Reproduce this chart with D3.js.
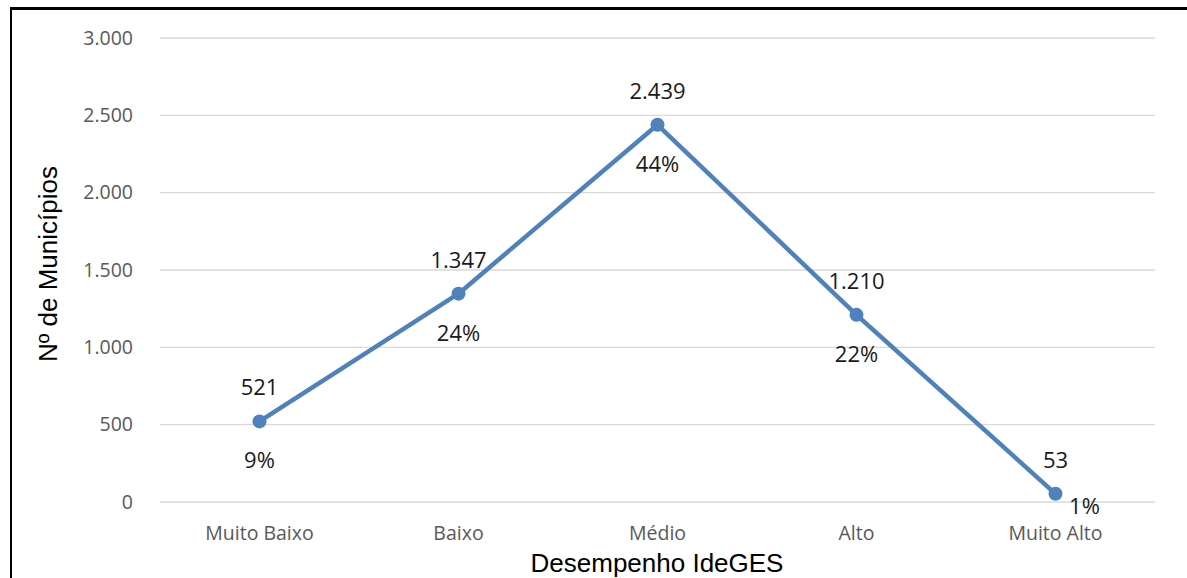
<!DOCTYPE html>
<html>
<head>
<meta charset="utf-8">
<script src="https://cdn.jsdelivr.net/npm/d3@7"></script>
<style>
  body { margin: 0; background: #fff; }
  text { font-family: "Open Sans", "Noto Sans", sans-serif; }
  .title { font-family: "Liberation Sans", Arial, sans-serif; }
</style>
</head>
<body>
<div id="chart"></div>
<script>
let w = 1187;
let h = 578;

// data
let categories = ["Muito Baixo", "Baixo", "Médio", "Alto", "Muito Alto"];
let values = [521, 1347, 2439, 1210, 53];
let percents = ["9%", "24%", "44%", "22%", "1%"];
let yTicks = [0, 500, 1000, 1500, 2000, 2500, 3000];

let margin = {left: 160, right: 32, top: 38, bottom: 76};

let svg = d3.select("#chart")
  .append("svg")
  .attr("width", w)
  .attr("height", h);

// frame lines (top + left)
svg.append("line")
  .attr("x1", 10).attr("x2", w).attr("y1", 8.5).attr("y2", 8.5)
  .attr("stroke", "#000").attr("stroke-width", 3);
svg.append("line")
  .attr("x1", 11).attr("x2", 11).attr("y1", 7).attr("y2", h)
  .attr("stroke", "#000").attr("stroke-width", 2);

let xScale = d3.scaleBand()
  .domain(categories)
  .range([margin.left, w - margin.right]);

let yScale = d3.scaleLinear()
  .domain([0, 3000])
  .range([h - margin.bottom, margin.top]);

let fmt = d3.formatLocale({decimal: ",", thousands: ".", grouping: [3], currency: ["", ""]}).format(",d");

// gridlines
svg.append("g")
  .selectAll("line")
  .data(yTicks)
  .enter()
  .append("line")
  .attr("x1", margin.left)
  .attr("x2", w - margin.right)
  .attr("y1", d => yScale(d))
  .attr("y2", d => yScale(d))
  .attr("stroke", "#d9d9d9")
  .attr("stroke-width", 1.3);

// y axis labels
let yAxis = d3.axisLeft(yScale).tickValues(yTicks).tickFormat(fmt).tickSize(0).tickPadding(27);
let yg = svg.append("g")
  .attr("transform", "translate(" + margin.left + ",0)")
  .call(yAxis);
yg.select(".domain").remove();
yg.selectAll("text")
  .attr("fill", "#595959")
  .style("font-size", "19.5px");

// x axis labels
let xAxis = d3.axisBottom(xScale).tickSize(0).tickPadding(24);
let xg = svg.append("g")
  .attr("transform", "translate(0," + (h - margin.bottom) + ")")
  .call(xAxis);
xg.select(".domain").remove();
xg.selectAll("text")
  .attr("fill", "#595959")
  .style("font-size", "19.5px");

// axis titles
svg.append("text")
  .attr("class", "title")
  .attr("x", 657)
  .attr("y", 572)
  .attr("text-anchor", "middle")
  .attr("fill", "#000")
  .style("font-size", "26px")
  .text("Desempenho IdeGES");

svg.append("text")
  .attr("class", "title")
  .attr("transform", "translate(57,264) rotate(-90)")
  .attr("text-anchor", "middle")
  .attr("fill", "#000")
  .style("font-size", "26px")
  .text("Nº de Municípios");

let points = categories.map(function(c, i){
  return {cat: c, value: values[i], pct: percents[i]};
});

let line = d3.line()
  .x(d => xScale(d.cat) + xScale.bandwidth() / 2)
  .y(d => yScale(d.value));

svg.append("path")
  .datum(points)
  .attr("d", line)
  .attr("fill", "none")
  .attr("stroke", "#4f81bd")
  .attr("stroke-width", 4.5)
  .attr("stroke-linejoin", "round");

svg.selectAll(".dot").data(points).enter()
  .append("circle")
  .attr("class", "dot")
  .attr("cx", d => xScale(d.cat) + xScale.bandwidth() / 2)
  .attr("cy", d => yScale(d.value))
  .attr("r", 7)
  .attr("fill", "#4f81bd");

// value labels
svg.selectAll(".vlabel").data(points).enter()
  .append("text")
  .attr("class", "vlabel")
  .attr("x", d => xScale(d.cat) + xScale.bandwidth() / 2)
  .attr("y", d => yScale(d.value) - 26)
  .attr("text-anchor", "middle")
  .attr("fill", "#1a1a1a")
  .style("font-size", "22px")
  .text(d => fmt(d.value));

// percent labels (pushed right when too close to the axis)
svg.selectAll(".plabel").data(points).enter()
  .append("text")
  .attr("class", "plabel")
  .attr("x", function(d){
    let cx = xScale(d.cat) + xScale.bandwidth() / 2;
    return d.value < 200 ? cx + 29 : cx;
  })
  .attr("y", function(d){
    return d.value < 200 ? yScale(d.value) + 20 : yScale(d.value) + 47;
  })
  .attr("text-anchor", "middle")
  .attr("fill", "#1a1a1a")
  .style("font-size", "22px")
  .text(d => d.pct);
</script>
</body>
</html>
